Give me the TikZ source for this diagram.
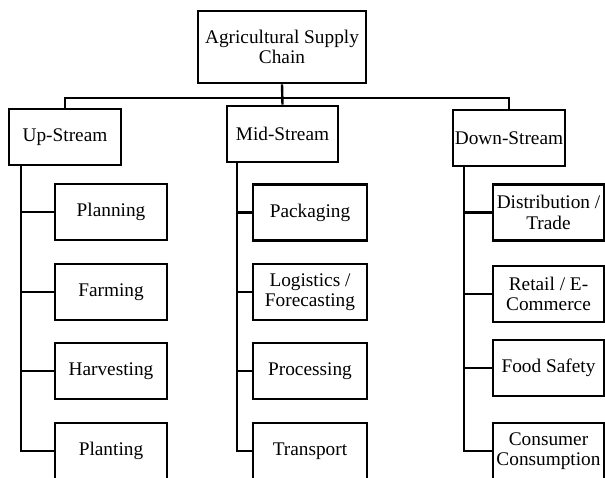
\documentclass[tikz,border=0pt]{standalone}
\usepackage{fontspec}
\setmainfont{Liberation Serif}
\usepackage{tikz}
\usetikzlibrary{positioning}
\tikzset{
  bx/.style={rectangle, draw=black, line width=2.6pt, fill=white,
             minimum width=112pt, minimum height=56pt, inner sep=2pt,
             align=center, font=\fontsize{19.3}{20.5}\selectfont},
  % linhas da árvore
  ln/.style={draw=black, line width=2.4pt}
}

\begin{document}
\begin{tikzpicture}[x=1pt,y=-1pt]
    \useasboundingbox (0,0) rectangle (605,477);
    \clip (0,0) rectangle (605,477);

    % raiz
    \node[bx, minimum width=168pt, minimum height=72pt] (root) at (282,47) {Agricultural Supply\\Chain};

    % três ramos
    \node[bx] (up) at (65,137) {Up-Stream};
    \node[bx, minimum width=111pt] (mid) at (282.5,134) {Mid-Stream};
    \node[bx] (down) at (509,138) {Down-Stream};
    \coordinate (bar) at (282,98);
    \draw[ln] (root.south) -- (mid.north);
    \draw[ln] (up.north) -- (up.north |- bar) -| (down.north);

    % up-stream
    \node[bx] (u1) at (111,212) {Planning};
    \node[bx] (u2) at (111,292) {Farming};
    \node[bx] (u3) at (111,371) {Harvesting};
    \node[bx] (u4) at (111,451) {Planting};
    \coordinate (ut) at (21,0);
    \draw[ln] (up.south -| ut) |- (u4.west);
    \draw[ln] (u1.west) -- (u1.west -| ut);
    \draw[ln] (u2.west) -- (u2.west -| ut);
    \draw[ln] (u3.west) -- (u3.west -| ut);

    % mid-stream
    \node[bx, minimum width=114pt] (m1) at (310,212.5) {Packaging};
    \node[bx, minimum width=114pt] (m2) at (310,292) {Logistics /\\Forecasting};
    \node[bx, minimum width=114pt] (m3) at (310,371) {Processing};
    \node[bx, minimum width=114pt] (m4) at (310,451) {Transport};
    \coordinate (mt) at (237,0);
    \draw[ln] (mid.south -| mt) |- (m4.west);
    \draw[ln] (m1.west) -- (m1.west -| mt);
    \draw[ln] (m2.west) -- (m2.west -| mt);
    \draw[ln] (m3.west) -- (m3.west -| mt);

    % down-stream
    \node[bx, minimum width=111pt] (d1) at (548.5,212.5) {Distribution /\\Trade};
    \node[bx, minimum width=111pt] (d2) at (548.5,294) {Retail / E-\\Commerce};
    \node[bx, minimum width=111pt] (d3) at (548.5,368) {Food Safety};
    \node[bx, minimum width=111pt] (d4) at (548.5,451) {Consumer\\Consumption};
    \coordinate (dt) at (464,0);
    \draw[ln] (down.south -| dt) |- (d4.west);
    \draw[ln] (d1.west) -- (d1.west -| dt);
    \draw[ln] (d2.west) -- (d2.west -| dt);
    \draw[ln] (d3.west) -- (d3.west -| dt);
\end{tikzpicture}
\end{document}
